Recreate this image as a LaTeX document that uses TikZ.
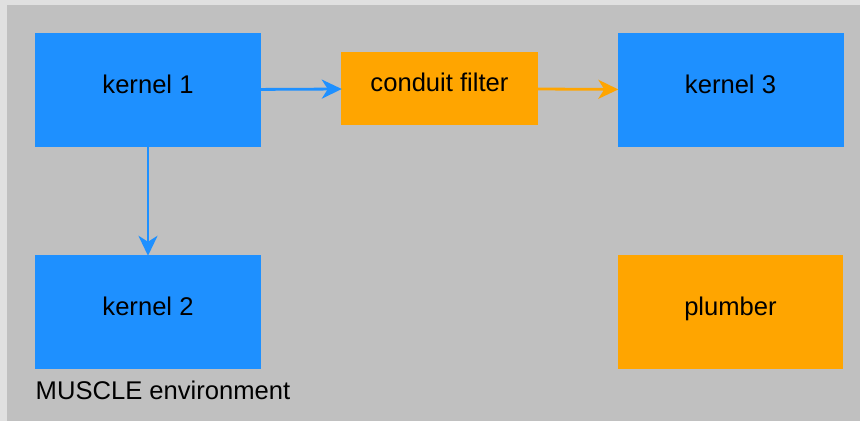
\documentclass[tikz,border=0pt]{standalone}
\usepackage{fontspec}
\setmainfont{Liberation Sans}
\usetikzlibrary{arrows.meta}
\definecolor{kblue}{HTML}{1E90FF}
\definecolor{korange}{HTML}{FFA500}
\definecolor{envgray}{HTML}{C0C0C0}
\definecolor{pagegray}{HTML}{E0E0E0}
\tikzset{
  labelfont/.style={font=\fontsize{25.6}{30}\selectfont},
  box/.style={draw=none, inner sep=0pt, labelfont,
    text height=18pt, text depth=11.4pt},
  kernelbox/.style={box, fill=kblue, minimum width=226pt, minimum height=114pt},
  orangebox/.style={box, fill=korange},
  link/.style={line width=2.8pt, shorten >=-1pt,
    -{Stealth[length=20pt, width=19pt, inset=6pt]}},
}
\begin{document}
\begin{tikzpicture}[x=1pt, y=-1pt]
  % page and environment area
  \fill[pagegray] (0,0) rectangle (860,421);
  \fill[envgray] (7,5) rectangle (860,421);
  \useasboundingbox (0,0) rectangle (860,421);

  % kernels
  \node[kernelbox] (k1) at (148,90) {kernel 1};
  \node[kernelbox] (k2) at (148,312) {kernel 2};
  \node[kernelbox] (k3) at (730.5,90) {kernel 3};

  % conduit filter and plumber
  \node[orangebox, minimum width=197pt, minimum height=73pt] (cf) at (439.5,88.5) {conduit filter};
  \node[orangebox, minimum width=225pt, minimum height=114pt] (pl) at (730.5,312) {plumber};

  % connections
  \draw[link, kblue] (k1) -- (cf);
  \draw[link, korange] (cf) -- (k3);
  \draw[link, kblue] (k1) -- (k2);

  % environment label
  \node[anchor=base west, inner sep=0pt, labelfont] (env) at (35.5,399) {MUSCLE environment};
\end{tikzpicture}
\end{document}
